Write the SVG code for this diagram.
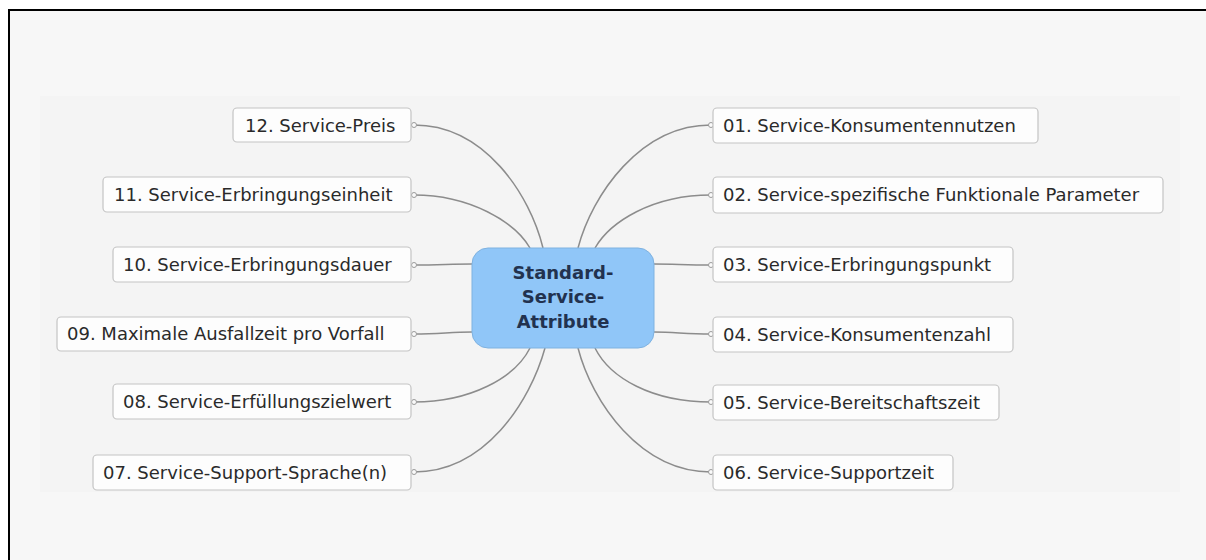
<svg xmlns="http://www.w3.org/2000/svg" width="1206" height="560" viewBox="0 0 1206 560">
<style>
.n rect{fill:#fdfdfd;stroke:#c4c4c4;stroke-width:1.2}
.n text{font-family:"DejaVu Sans",Verdana,sans-serif;font-size:18px;fill:#2a2a2a}
.c path{fill:none;stroke:#8c8c8c;stroke-width:1.5}
.c circle{fill:#fafafa;stroke:#9a9a9a;stroke-width:1}
.t{font-family:"DejaVu Sans",Verdana,sans-serif;font-size:18px;font-weight:bold;fill:#22324f}
</style>
<rect x="0" y="0" width="1206" height="560" fill="#ffffff"/>
<rect x="9" y="10" width="1210" height="560" fill="#f7f7f7" stroke="#000" stroke-width="2"/>
<rect x="40" y="96" width="1140" height="396" fill="#f4f4f4"/>
<g class="c" id="connectors">
<path d="M414,125 C485,125 530,195 543,248"/>
<path d="M414,195 C470,195 515,222 530,248"/>
<path d="M414,265 C440,265 450,264 472,264"/>
<path d="M414,334 C440,334 450,332 472,332"/>
<path d="M414,402 C470,402 515,378 530,348"/>
<path d="M414,472 C485,472 530,402 545,348"/>
<path d="M711,125 C640,125 592,195 578,248"/>
<path d="M711,195 C652,195 610,222 595,248"/>
<path d="M711,265 C685,265 675,264 654,264"/>
<path d="M711,334 C685,334 675,332 654,332"/>
<path d="M711,402 C652,402 610,378 595,348"/>
<path d="M711,472 C640,472 592,402 578,348"/>
<circle cx="414" cy="125" r="2.5"/><circle cx="414" cy="195" r="2.5"/><circle cx="414" cy="265" r="2.5"/>
<circle cx="414" cy="334" r="2.5"/><circle cx="414" cy="402" r="2.5"/><circle cx="414" cy="472" r="2.5"/>
<circle cx="711" cy="125" r="2.5"/><circle cx="711" cy="195" r="2.5"/><circle cx="711" cy="265" r="2.5"/>
<circle cx="711" cy="334" r="2.5"/><circle cx="711" cy="402" r="2.5"/><circle cx="711" cy="472" r="2.5"/>
</g>
<g id="center">
<rect x="472" y="248" width="182" height="100" rx="16" fill="#90c6f8" stroke="#7fb2e0" stroke-width="1"/>
<text class="t" x="563" y="279" text-anchor="middle">Standard-</text>
<text class="t" x="563" y="303" text-anchor="middle">Service-</text>
<text class="t" x="563" y="328" text-anchor="middle">Attribute</text>
</g>
<g class="n" id="n12"><rect x="233" y="108" width="178" height="34" rx="4"/><text x="245" y="132">12. Service-Preis</text></g>
<g class="n" id="n11"><rect x="103" y="177" width="308" height="35" rx="4"/><text x="114" y="201">11. Service-Erbringungseinheit</text></g>
<g class="n" id="n10"><rect x="113" y="247" width="298" height="35" rx="4"/><text x="123" y="271">10. Service-Erbringungsdauer</text></g>
<g class="n" id="n09"><rect x="57" y="317" width="354" height="34" rx="4"/><text x="67" y="340">09. Maximale Ausfallzeit pro Vorfall</text></g>
<g class="n" id="n08"><rect x="113" y="384" width="298" height="35" rx="4"/><text x="123" y="408">08. Service-Erfüllungszielwert</text></g>
<g class="n" id="n07"><rect x="93" y="455" width="318" height="35" rx="4"/><text x="103" y="479">07. Service-Support-Sprache(n)</text></g>
<g class="n" id="n01"><rect x="713" y="108" width="325" height="35" rx="4"/><text x="723" y="132">01. Service-Konsumentennutzen</text></g>
<g class="n" id="n02"><rect x="713" y="177" width="450" height="36" rx="4"/><text x="723" y="201">02. Service-spezifische Funktionale Parameter</text></g>
<g class="n" id="n03"><rect x="713" y="247" width="300" height="35" rx="4"/><text x="723" y="271">03. Service-Erbringungspunkt</text></g>
<g class="n" id="n04"><rect x="713" y="317" width="300" height="35" rx="4"/><text x="723" y="341">04. Service-Konsumentenzahl</text></g>
<g class="n" id="n05"><rect x="713" y="385" width="286" height="35" rx="4"/><text x="723" y="409">05. Service-Bereitschaftszeit</text></g>
<g class="n" id="n06"><rect x="713" y="455" width="240" height="35" rx="4"/><text x="723" y="479">06. Service-Supportzeit</text></g>
</svg>
